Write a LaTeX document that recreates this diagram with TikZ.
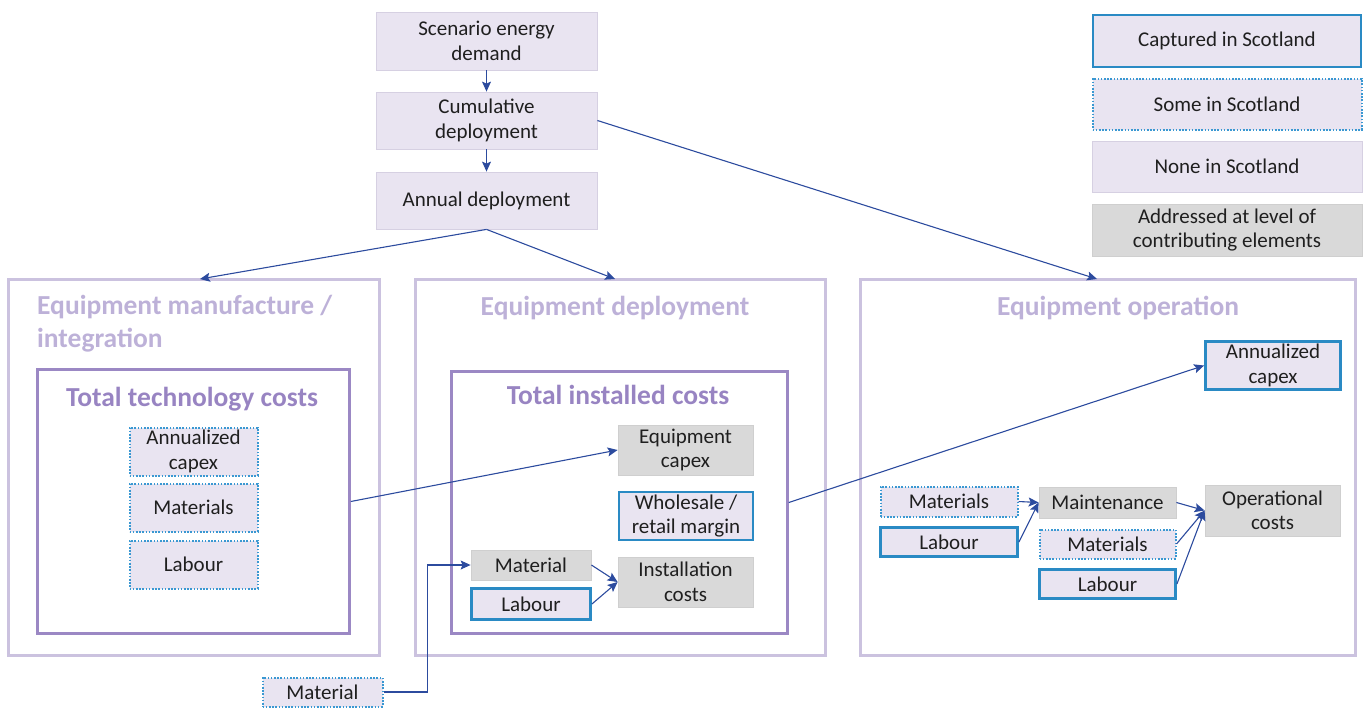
\documentclass[tikz,border=0pt]{standalone}
\usepackage{fontspec}
\setmainfont{Carlito}
\usetikzlibrary{arrows.meta,positioning,calc}

\definecolor{lav}{HTML}{E9E4F1}
\definecolor{lavedge}{HTML}{D6D0E2}
\definecolor{greyfill}{HTML}{D9D9D9}
\definecolor{greyedge}{HTML}{CFCFCF}
\definecolor{capblue}{HTML}{2A8AC4}
\definecolor{dotblue}{HTML}{3A98D2}
\definecolor{panel}{HTML}{CBC2DF}
\definecolor{inner}{HTML}{9B88C4}
\definecolor{paneltitle}{HTML}{BDB1D8}
\definecolor{innertitle}{HTML}{9884C2}
\definecolor{flow}{HTML}{2C4B9E}

\tikzset{
  base/.style={align=center, inner sep=0pt, text=black!88,
    font=\fontsize{21}{24.5}\selectfont},
  none/.style={base, fill=lav, draw=lavedge, line width=0.8pt},
  captured/.style={base, fill=lav, draw=capblue, line width=2.8pt},
  some/.style={base, fill=lav, draw=dotblue, line width=2pt,
    dash pattern=on 1.6pt off 1.6pt},
  addressed/.style={base, fill=greyfill, draw=greyedge, line width=0.8pt},
  panelbox/.style={draw=panel, line width=2.8pt},
  innerbox/.style={draw=inner, line width=2.6pt},
  ptitle/.style={text=paneltitle, font=\fontsize{27.5}{33}\selectfont\bfseries,
    inner sep=0pt},
  ititle/.style={text=innertitle, font=\fontsize{27.5}{32}\selectfont\bfseries,
    inner sep=0pt},
  flowarrow/.style={draw=flow, line width=1.1pt,
    -{Stealth[length=10pt,width=9pt,inset=2pt]}},
}

% box centred at (x,y) with given width and height (pixel units)
\newcommand{\bx}[6]{\node[#1, minimum width=#4pt, minimum height=#5pt] (#2) at (#3) {#6};}

\begin{document}
\begin{tikzpicture}[x=1pt, y=-1pt]
\useasboundingbox (0,0) rectangle (1365,707);

% outer stage panels
\node[panelbox, minimum width=371pt, minimum height=376pt] (man) at (194,467.5) {};
\node[panelbox, minimum width=410pt, minimum height=376pt] (dep) at (620.5,467.5) {};
\node[panelbox, minimum width=495pt, minimum height=376pt] (op) at (1108,467.5) {};

\node[ptitle, anchor=west, align=left] (mantitle) at (37,324)
  {Equipment manufacture /\\integration};
\node[ptitle] (deptitle) at (615,308) {Equipment deployment};
\node[ptitle] (optitle) at (1118,308) {Equipment operation};

% inner cost boxes
\node[innerbox, minimum width=312pt, minimum height=264pt] (tech) at (193.5,501.5) {};
\node[innerbox, minimum width=336pt, minimum height=262pt] (inst) at (619.5,502.5) {};
\node[ititle] (techtitle) at (192,399) {Total technology costs};
\node[ititle] (insttitle) at (618,395) {Total installed costs};

% top chain
\bx{none}{scen}{486.5,41}{221}{58}{Scenario energy\\demand}
\bx{none}{cum}{486.5,120.5}{221}{57}{Cumulative\\deployment}
\bx{none}{ann}{486.5,200.5}{221}{57}{Annual deployment}

% legend
\bx{captured}{legcap}{1227,41}{268}{52}{Captured in Scotland}
\bx{some}{legsome}{1227,104}{269}{51}{Some in Scotland}
\bx{none}{legnone}{1227,166.5}{270}{51}{None in Scotland}
\bx{addressed}{legaddr}{1227,230}{270}{52}{Addressed at level of\\contributing elements}

% manufacture elements
\bx{some}{mancap}{193.5,451.5}{128}{48}{Annualized\\capex}
\bx{some}{manmat}{193.5,507.5}{128}{48}{Materials}
\bx{some}{manlab}{193.5,564.5}{128}{48}{Labour}

% deployment elements
\bx{addressed}{eqcap}{685.5,450}{135}{50}{Equipment\\capex}
\bx{captured}{margin}{686,516}{134}{48}{Wholesale /\\retail margin}
\bx{addressed}{instcost}{685.5,582}{135}{50}{Installation\\costs}
\bx{addressed}{depmat}{531,565}{120}{30}{Material}
\bx{captured}{deplab}{531,604}{119}{31}{Labour}
\bx{some}{extmat}{322.5,692}{120}{29}{Material}

% operation elements
\bx{captured}{opcap}{1273,365.5}{135}{48}{Annualized\\capex}
\bx{some}{opmat}{949,501.5}{137}{30}{Materials}
\bx{captured}{oplab}{949,542}{137}{29}{Labour}
\bx{addressed}{maint}{1107.5,502.5}{137}{31}{Maintenance}
\bx{some}{opmat2}{1107.5,544}{136}{29}{Materials}
\bx{captured}{oplab2}{1107.5,584}{136}{29}{Labour}
\bx{addressed}{opcost}{1272.5,510.5}{135}{51}{Operational\\costs}

% entry points on the panel tops
\coordinate (manin) at (200,279);
\coordinate (depin) at (615,279);
\coordinate (opin) at (1097,279);

% flows
\draw[flowarrow] (scen.south) -- (cum.north);
\draw[flowarrow] (cum.south) -- (ann.north);
\draw[flowarrow] (ann.south) -- (manin);
\draw[flowarrow] (ann.south) -- (depin);
\draw[flowarrow] (cum.east) -- (opin);
\draw[flowarrow] (tech.east) -- (eqcap.west);
\draw[flowarrow] (inst.east) -- (opcap.west);
\draw[flowarrow] (extmat.east) -- ++(44,0) |- (depmat.west);
\draw[flowarrow] (depmat.east) -- (instcost.west);
\draw[flowarrow] (deplab.east) -- (instcost.west);
\draw[flowarrow] (opmat.east) -- (maint.west);
\draw[flowarrow] (oplab.east) -- (maint.west);
\draw[flowarrow] (maint.east) -- (opcost.west);
\draw[flowarrow] (opmat2.east) -- (opcost.west);
\draw[flowarrow] (oplab2.east) -- (opcost.west);
\end{tikzpicture}
\end{document}
